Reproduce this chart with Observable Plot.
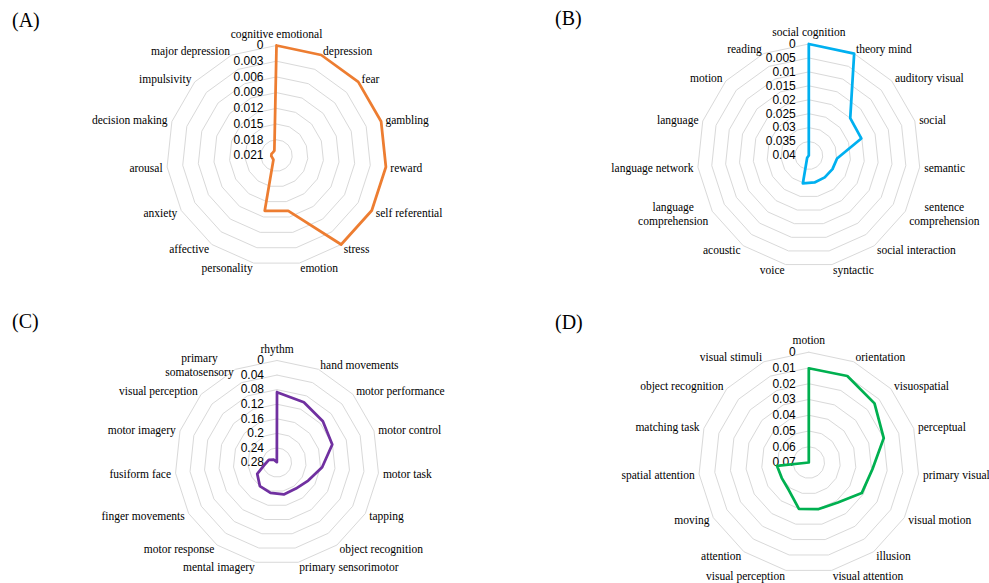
<!DOCTYPE html>
<html><head><meta charset="utf-8">
<script src="https://cdn.jsdelivr.net/npm/d3@7"></script>
<script src="https://cdn.jsdelivr.net/npm/@observablehq/plot@0.6"></script>
<style>
body{margin:0;background:#fff;}
#root{position:relative;width:989px;height:583px;overflow:hidden;background:#fff;}
.panel{position:absolute;}
.panel svg{overflow:visible;}
.tag{position:absolute;font-family:"Liberation Serif","Times New Roman",serif;font-size:20px;line-height:20px;color:#000;white-space:nowrap;}
</style></head><body><div id="root"></div>
<script>
// ---- Data ----
const catsA = ["cognitive emotional","depression","fear","gambling","reward","self referential","stress","emotion","personality","affective","anxiety","arousal","decision making","impulsivity","major depression"];
const valsA = [0,0,0,0,0,0,0,0.0102,0.0102,0.0200,0.0201,0.0200,0.0200,0.0201,0.0200];
const ticksA = [0,0.003,0.006,0.009,0.012,0.015,0.018,0.021];
const tickLabelsA = ["0","0.003","0.006","0.009","0.012","0.015","0.018","0.021"];

const catsB = ["social cognition","theory mind","auditory visual","social","semantic","sentence\ncomprehension","social interaction","syntactic","voice","acoustic","language\ncomprehension","language network","language","motion","reading"];
const valsB = [0,0,0.0200,0.0202,0.0298,0.0302,0.0303,0.0301,0.0298,0.0390,0.0400,0.0400,0.0400,0.0400,0.0400];
const ticksB = [0,0.005,0.01,0.015,0.02,0.025,0.03,0.035,0.04];
const tickLabelsB = ["0","0.005","0.01","0.015","0.02","0.025","0.03","0.035","0.04"];

const catsC = ["rhythm","hand movements","motor performance","motor control","motor task","tapping","object recognition","primary sensorimotor","mental imagery","motor response","finger movements","fusiform face","motor imagery","visual perception","primary\nsomatosensory"];
const valsC = [0.087,0.0988,0.1106,0.1205,0.1554,0.181,0.1916,0.1905,0.1946,0.200,0.2174,0.248,0.2564,0.2685,0.279];
const ticksC = [0,0.04,0.08,0.12,0.16,0.2,0.24,0.28];
const tickLabelsC = ["0","0.04","0.08","0.12","0.16","0.2","0.24","0.28"];

const catsD = ["motion","orientation","visuospatial","perceptual","primary visual","visual motion","illusion","visual attention","visual perception","attention","moving","spatial attention","matching task","object recognition","visual stimuli"];
const valsD = [0.0102,0.0099,0.0139,0.0200,0.0294,0.0312,0.0386,0.0398,0.0399,0.0484,0.0502,0.0497,0.0700,0.0700,0.0700];
const ticksD = [0,0.01,0.02,0.03,0.04,0.05,0.06,0.07];
const tickLabelsD = ["0","0.01","0.02","0.03","0.04","0.05","0.06","0.07"];

const tags = ["(A)","(B)","(C)","(D)"];
const colors = ["#ED7D31","#00B0F0","#7030A0","#00B050"];

// ---- Layout ----
const panels = [
  {cats:catsA, vals:valsA, ticks:ticksA, tl:tickLabelsA, left:0,   top:0,   w:494, h:291, cx:276,   cy:155, R:110,   tag:[12,10]},
  {cats:catsB, vals:valsB, ticks:ticksB, tl:tickLabelsB, left:494, top:0,   w:495, h:291, cx:314.3, cy:155, R:111.5, tag:[555,8]},
  {cats:catsC, vals:valsC, ticks:ticksC, tl:tickLabelsC, left:0,   top:291, w:494, h:292, cx:276.5, cy:171, R:102,   tag:[12,311]},
  {cats:catsD, vals:valsD, ticks:ticksD, tl:tickLabelsD, left:494, top:291, w:495, h:292, cx:314.3, cy:171, R:110.3, tag:[555,312]}
];

const SERIF = "'Liberation Serif', 'Times New Roman', serif";
const SANS = "'Liberation Sans', Arial, sans-serif";
const LABEL_SIZE = 11.5;
const ctx = document.createElement("canvas").getContext("2d");
ctx.font = LABEL_SIZE + "px 'Liberation Serif'";
const measure = s => d3.max(s.split("\n"), l => ctx.measureText(l).width);

const root = document.getElementById("root");

panels.forEach((p, pi) => {
  const n = p.cats.length;
  const max = p.ticks[p.ticks.length - 1];
  const rs = d3.scaleLinear().domain([0, max]).range([1, 0]);
  const ang = i => 2 * Math.PI * i / n;
  const pt = (r, i) => [r * Math.sin(ang(i)), r * Math.cos(ang(i))];

  const rings = p.ticks.filter(t => rs(t) > 1e-9).flatMap(t =>
    d3.range(n + 1).map(k => { const [x, y] = pt(rs(t), k % n); return {t, x, y}; }));
  const series = d3.range(n + 1).map(k => { const [x, y] = pt(rs(p.vals[k % n]), k % n); return {x, y}; });
  const tickRows = p.ticks.map((t, k) => ({t, label: p.tl[k]}));
  const labels = p.cats.map((c, i) => {
    const a = ang(i), s = Math.sin(a), co = Math.cos(a);
    const side = Math.abs(s) < 1e-6 ? 0 : Math.sign(s);
    const offX = 4.5 * s + side * measure(c) / 2;
    const offY = i === 0 ? 12 : 5 * co;
    return {text: c, x: s + offX / p.R, y: co + offY / p.R};
  });

  const chart = Plot.plot({
    width: p.w, height: p.h, margin: 0,
    x: {domain: [-p.cx / p.R, (p.w - p.cx) / p.R], range: [0, p.w], axis: null},
    y: {domain: [-(p.h - p.cy) / p.R, p.cy / p.R], range: [p.h, 0], axis: null},
    style: {background: "transparent", overflow: "visible"},
    marks: [
      Plot.line(rings, {x: "x", y: "y", z: "t", stroke: "#d9d9d9", strokeWidth: 1}),
      Plot.text(tickRows, {x: d => 0, y: d => rs(d.t), text: "label", dx: -13, textAnchor: "end", lineAnchor: "middle", fontFamily: SANS, fontSize: 12, fill: "#000"}),
      Plot.line(series, {x: "x", y: "y", stroke: colors[pi], strokeWidth: 2.75, strokeLinejoin: "round"}),
      Plot.text(labels, {x: "x", y: "y", text: "text", textAnchor: "middle", lineAnchor: "middle", lineHeight: 1.16, fontFamily: SERIF, fontSize: LABEL_SIZE, fill: "#000"})
    ]
  });
  // enforce fonts with inline styles
  const textGroups = chart.querySelectorAll("g[aria-label='text']");
  if (textGroups[0]) textGroups[0].style.fontFamily = SANS;
  if (textGroups[1]) textGroups[1].style.fontFamily = SERIF;

  const div = document.createElement("div");
  div.className = "panel";
  div.style.left = p.left + "px"; div.style.top = p.top + "px";
  div.appendChild(chart);
  root.appendChild(div);

  const tg = document.createElement("div");
  tg.className = "tag";
  tg.textContent = tags[pi];
  tg.style.left = p.tag[0] + "px"; tg.style.top = p.tag[1] + "px";
  root.appendChild(tg);
});
</script>
</body></html>
